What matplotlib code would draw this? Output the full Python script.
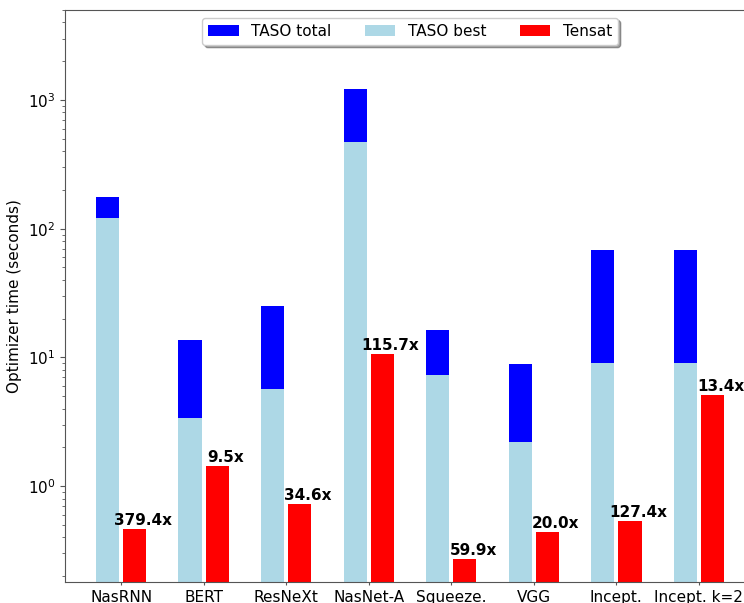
import matplotlib
matplotlib.use("Agg")
import matplotlib.pyplot as plt
import numpy as np

categories = ["NasRNN", "BERT", "ResNeXt", "NasNet-A", "Squeeze.", "VGG", "Incept.", "Incept. k=2"]
taso_total = [176, 13.6, 25.0, 1220, 16.3, 8.87, 68.2, 68.2]
taso_best = [121, 3.38, 5.67, 471, 7.28, 2.2, 9.03, 9.03]
tensat = [0.463, 1.43, 0.724, 10.55, 0.271, 0.44, 0.535, 5.09]
speedup_labels = ["379.4x", "9.5x", "34.6x", "115.7x", "59.9x", "20.0x", "127.4x", "13.4x"]

fig = plt.figure(figsize=(7.44, 6.03), dpi=100)
ax = fig.add_axes([65/744, 21/603, (755-65)/744, (582-10)/603])

x = np.arange(len(categories))
w = 0.28
off = 0.165
ax.bar(x - off, taso_total, w, color="blue", label="TASO total")
ax.bar(x - off, taso_best, w, color="lightblue", label="TASO best")
ax.bar(x + off, tensat, w, color="red", label="Tensat")

for xi, v, s in zip(x, tensat, speedup_labels):
    ax.annotate(s, (xi + off, v), xytext=(6, 1), textcoords="offset points",
                ha="center", va="bottom", fontsize=11, fontweight="bold")

ax.set_yscale("log")
ax.set_ylim(0.18, 5000)
ax.set_xlim(-0.68, len(categories) - 1 + 0.68)
ax.set_xticks(x)
ax.set_xticklabels(categories, fontsize=11)
ax.tick_params(axis="y", labelsize=11)
ax.tick_params(axis="x", length=2.5, pad=3)
ax.set_ylabel("Optimizer time (seconds)", fontsize=11)
for sp in ax.spines.values():
    sp.set_color("#555555")
ax.tick_params(which="both", colors="#555555", labelcolor="black")

ax.legend(loc="upper center", ncol=3, fontsize=11, shadow=True,
          bbox_to_anchor=(0.5 - 345/690 + 345/690, 1.0), framealpha=1,
          columnspacing=2.2)

fig.savefig("out.png", dpi=100)
